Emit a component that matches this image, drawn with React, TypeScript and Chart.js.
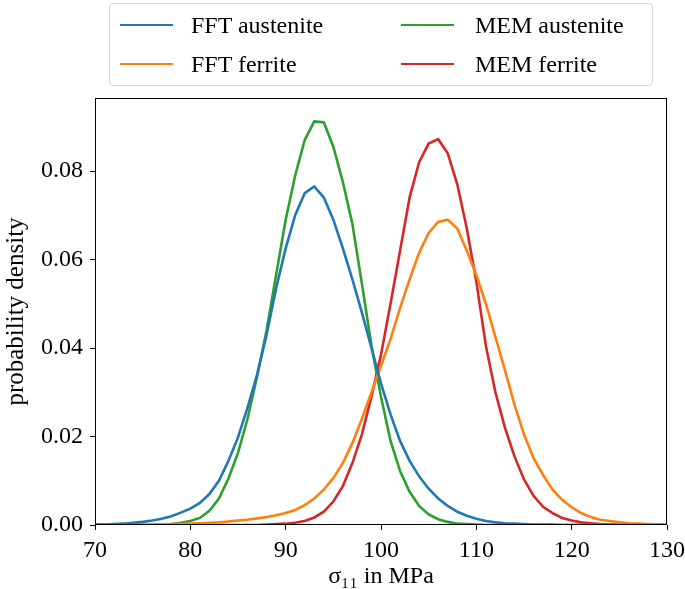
import React, { useEffect, useRef } from "react";
import { Chart, registerables } from "chart.js";

Chart.register(...registerables);

// sigma_11 in MPa
const xValues = [
  70, 71, 72, 73, 74, 75, 76, 77, 78, 79,
  80, 81, 82, 83, 84, 85, 86, 87, 88, 89,
  90, 91, 92, 93, 94, 95, 96, 97, 98, 99,
  100, 101, 102, 103, 104, 105, 106, 107, 108, 109,
  110, 111, 112, 113, 114, 115, 116, 117, 118, 119,
  120, 121, 122, 123, 124, 125, 126, 127, 128, 129,
  130,
];

const fftAustenite = [
  0.0001, 0.0001, 0.0002, 0.0003, 0.0005, 0.0007, 0.001, 0.0014, 0.002, 0.0028,
  0.0037, 0.005, 0.007, 0.01, 0.0145, 0.0198, 0.0265, 0.034, 0.043, 0.0535,
  0.0625, 0.07, 0.075, 0.0765, 0.074, 0.069, 0.0625, 0.0555, 0.048, 0.04,
  0.032, 0.025, 0.019, 0.0145, 0.011, 0.0082, 0.006, 0.0043, 0.003, 0.0021,
  0.0014, 0.0009, 0.0006, 0.0004, 0.0003, 0.0002, 0.0001, 0.0001, 0.0001, 0,
  0, 0, 0, 0, 0, 0, 0, 0, 0, 0,
  0,
];

const fftFerrite = [
  0, 0.0001, 0.0001, 0.0001, 0.0001, 0.0001, 0.0001, 0.0001, 0.0002, 0.0002,
  0.0003, 0.0004, 0.0005, 0.0006, 0.0008, 0.001, 0.0012, 0.0015, 0.0018, 0.0022,
  0.0027, 0.0034, 0.0045, 0.006, 0.008, 0.0106, 0.014, 0.0185, 0.024, 0.03,
  0.036, 0.042, 0.049, 0.0555, 0.0615, 0.066, 0.0685, 0.069, 0.067, 0.062,
  0.0565, 0.05, 0.0425, 0.035, 0.0272, 0.0205, 0.0151, 0.0113, 0.008, 0.0057,
  0.004, 0.0027, 0.0018, 0.0012, 0.0009, 0.0006, 0.0004, 0.0003, 0.0002, 0.0001,
  0.0001,
];

const memAustenite = [
  0, 0, 0, 0, 0, 0, 0, 0.0001, 0.0002, 0.0005,
  0.0009, 0.0016, 0.0032, 0.006, 0.0105, 0.0163, 0.024, 0.0335, 0.044, 0.0565,
  0.069, 0.079, 0.087, 0.0912, 0.091, 0.0855, 0.0775, 0.068, 0.0545, 0.0405,
  0.029, 0.019, 0.0122, 0.0075, 0.0043, 0.0024, 0.0013, 0.0007, 0.0003, 0.0002,
  0.0001, 0, 0, 0, 0, 0, 0, 0, 0, 0,
  0, 0, 0, 0, 0, 0, 0, 0, 0, 0,
  0,
];

const memFerrite = [
  0, 0, 0, 0, 0, 0, 0, 0, 0, 0,
  0, 0, 0, 0, 0, 0, 0, 0, 0.0001, 0.0002,
  0.0003, 0.0005, 0.0009, 0.0017, 0.003, 0.0053, 0.0088, 0.014, 0.0205, 0.029,
  0.0385, 0.05, 0.062, 0.074, 0.082, 0.0862, 0.0872, 0.084, 0.077, 0.067,
  0.055, 0.0405, 0.03, 0.022, 0.0155, 0.0103, 0.0066, 0.0041, 0.0027, 0.0016,
  0.001, 0.0006, 0.0004, 0.0002, 0.0001, 0, 0, 0, 0, 0,
  0,
];

const xTicks = [70, 80, 90, 100, 110, 120, 130];
const yTicks = [0, 0.02, 0.04, 0.06, 0.08];

const seriesLabels = ["FFT austenite", "FFT ferrite", "MEM austenite", "MEM ferrite"];
const seriesColors = ["#1f77b4", "#ff7f0e", "#2ca02c", "#d62728"];
const seriesValues = [fftAustenite, fftFerrite, memAustenite, memFerrite];

const FONT = "'Liberation Serif', 'Times New Roman', serif";

const framePlugin = {
  id: "frame",
  afterDatasetsDraw(chart: any) {
    const { ctx, chartArea: a } = chart;
    ctx.save();
    ctx.strokeStyle = "#000";
    ctx.lineWidth = 1;
    ctx.strokeRect(
      Math.round(a.left) + 0.5,
      Math.round(a.top) + 0.5,
      Math.round(a.right - a.left) - 1,
      Math.round(a.bottom - a.top) - 1
    );
    ctx.restore();
  },
};

function ChartView() {
  const ref = useRef<HTMLCanvasElement | null>(null);

  useEffect(() => {
    if (!ref.current) return;
    const chart = new Chart(ref.current, {
      type: "line",
      data: {
        datasets: seriesLabels.map((label, i) => ({
          label,
          data: xValues.map((x, j) => ({ x, y: seriesValues[i][j] })),
          borderColor: seriesColors[i],
          backgroundColor: seriesColors[i],
          borderWidth: 2.6,
          pointRadius: 0,
          tension: 0,
          fill: false,
        })),
      },
      options: {
        responsive: false,
        animation: false,
        devicePixelRatio: 1,
        layout: { padding: { left: 0, top: 98, right: 18, bottom: 0 } },
        plugins: {
          legend: { display: false },
          tooltip: { enabled: false },
        },
        scales: {
          x: {
            type: "linear",
            min: 70,
            max: 130,
            afterFit(scale: any) {
              scale.height = 64;
              scale.paddingLeft = 0;
              scale.paddingRight = 0;
            },
            afterBuildTicks(scale: any) {
              scale.ticks = xTicks.map((v) => ({ value: v }));
            },
            ticks: {
              color: "#000",
              font: { family: FONT, size: 24 },
              padding: 6,
              maxRotation: 0,
              callback: (v: any) => String(v),
            },
            grid: {
              drawOnChartArea: false,
              drawTicks: true,
              tickLength: 5,
              color: "#000",
              lineWidth: 1,
            },
            border: { display: false },
            title: {
              display: true,
              text: "σ₁₁ in MPa",
              color: "#000",
              font: { family: FONT, size: 24, lineHeight: 1.0 },
              padding: { top: 0, bottom: 0 },
            },
          },
          y: {
            type: "linear",
            min: 0,
            max: 0.0965,
            afterFit(scale: any) {
              scale.width = 95;
              scale.paddingTop = 0;
              scale.paddingBottom = 0;
            },
            afterBuildTicks(scale: any) {
              scale.ticks = yTicks.map((v) => ({ value: v }));
            },
            ticks: {
              color: "#000",
              font: { family: FONT, size: 24 },
              padding: 7,
              callback: (v: any) => Number(v).toFixed(2),
            },
            grid: {
              drawOnChartArea: false,
              drawTicks: true,
              tickLength: 5,
              color: "#000",
              lineWidth: 1,
            },
            border: { display: false },
            title: {
              display: true,
              text: "probability density",
              color: "#000",
              font: { family: FONT, size: 25, lineHeight: 1.2 },
              padding: { top: 1, bottom: 0 },
            },
          },
        },
      },
      plugins: [framePlugin],
    });
    return () => chart.destroy();
  }, []);

  return <canvas ref={ref} width={685} height={589} style={{ display: "block" }} />;
}

function Legend() {
  const rows = [
    [0, 2],
    [1, 3],
  ];
  const rowCenters = [21, 60];
  const lineX = [10, 291];
  const textX = [81, 365];
  const items: React.ReactNode[] = [];
  rows.forEach((row, r) => {
    row.forEach((idx, c) => {
      items.push(
        <div
          key={`l${idx}`}
          style={{
            position: "absolute",
            left: lineX[c],
            top: rowCenters[r] - 1.25,
            width: 53,
            height: 2.5,
            background: seriesColors[idx],
          }}
        />
      );
      items.push(
        <span
          key={`t${idx}`}
          style={{
            position: "absolute",
            left: textX[c],
            top: rowCenters[r] - 12,
            fontFamily: FONT,
            fontSize: 24,
            lineHeight: "24px",
            whiteSpace: "nowrap",
            color: "#000",
          }}
        >
          {seriesLabels[idx]}
        </span>
      );
    });
  });
  return (
    <div
      style={{
        position: "absolute",
        left: 109,
        top: 3,
        width: 544,
        height: 83,
        boxSizing: "border-box",
        border: "1px solid #d6d6d6",
        borderRadius: 4,
        background: "rgba(255,255,255,0.8)",
      }}
    >
      {items}
    </div>
  );
}

export default function App() {
  useEffect(() => {
    document.body.style.margin = "0";
    document.body.style.background = "#fff";
  }, []);
  return (
    <div
      style={{
        position: "absolute",
        left: 0,
        top: 0,
        width: 685,
        height: 589,
        background: "#fff",
        overflow: "hidden",
      }}
    >
      <ChartView />
      <Legend />
    </div>
  );
}
